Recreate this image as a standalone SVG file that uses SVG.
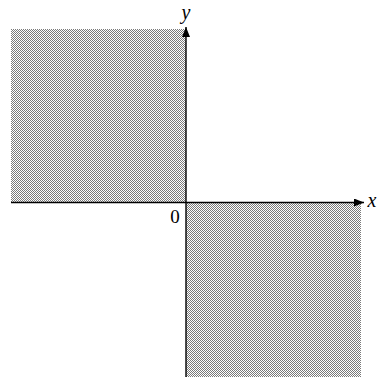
<svg xmlns="http://www.w3.org/2000/svg" width="380" height="377" viewBox="0 0 380 377">
<defs>
<pattern id="dots" width="2" height="2" patternUnits="userSpaceOnUse">
<rect width="2" height="2" fill="#ffffff"/>
<rect x="0" y="0" width="1" height="1" fill="#7a7a7a"/>
<rect x="1" y="1" width="1" height="1" fill="#7a7a7a"/>
</pattern>
<marker id="arr" viewBox="0 0 10 8" refX="10" refY="4" markerWidth="10" markerHeight="8" markerUnits="userSpaceOnUse" orient="auto">
<path d="M0,0 L10,4 L0,8 Z" fill="#000"/>
</marker>
<style>
.region{fill:url(#dots);stroke:none}
.axis{stroke:#000;stroke-width:1.4;fill:none}
.lbl{font-family:"Liberation Serif","Times New Roman",serif;fill:#000}
.it{font-style:italic}
</style>
</defs>
<g id="regions">
<rect class="region" x="11" y="29" width="175" height="173"/>
<rect class="region" x="186" y="203" width="175" height="174"/>
</g>
<g id="axes">
<line class="axis" x1="11" y1="202.5" x2="364" y2="202.5" marker-end="url(#arr)"/>
<line class="axis" x1="186" y1="377" x2="186" y2="27" marker-end="url(#arr)"/>
</g>
<g id="labels">
<text class="lbl it" x="186" y="19" font-size="20" text-anchor="middle">y</text>
<text class="lbl it" x="372" y="207" font-size="20" text-anchor="middle">x</text>
<text class="lbl" x="175" y="223" font-size="19" text-anchor="middle">0</text>
</g>
</svg>
